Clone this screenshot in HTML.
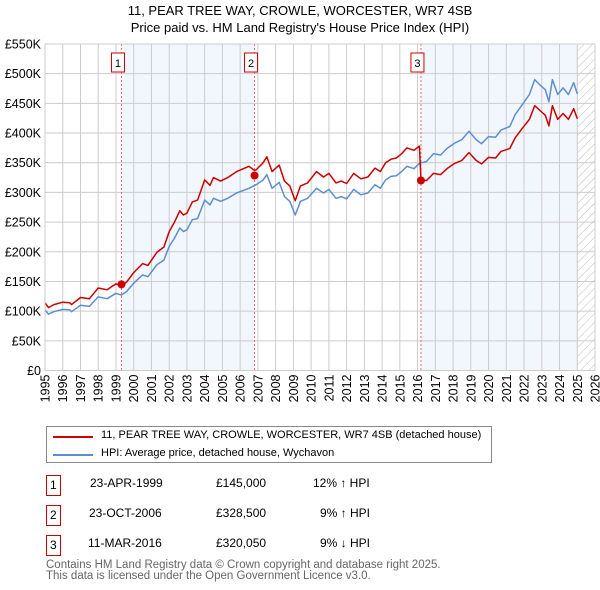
<!DOCTYPE html>
<html><head><meta charset="utf-8"><style>
body{margin:0;background:#fff;font-family:"Liberation Sans","DejaVu Sans",sans-serif;}
#wrap{position:relative;width:600px;height:590px;overflow:hidden}
.t{position:absolute;font-size:12px;color:#000;white-space:nowrap}
</style></head><body><div id="wrap">
<svg id="chart" width="600" height="590" style="position:absolute;left:0;top:0">
<defs><pattern id="hatch" width="6" height="6" patternUnits="userSpaceOnUse" patternTransform="rotate(45)"><line x1="0" y1="0" x2="0" y2="6" stroke="#bbb" stroke-width="1"/></pattern></defs>
<text x="300" y="15" text-anchor="middle" font-size="13">11, PEAR TREE WAY, CROWLE, WORCESTER, WR7 4SB</text>
<text x="300" y="32" text-anchor="middle" font-size="13">Price paid vs. HM Land Registry's House Price Index (HPI)</text>
<g id="plot"></g>
</svg>
<div style="position:absolute;left:46px;top:426px;width:444px;height:35px;border:1px solid #888">
 <div style="position:absolute;left:6px;top:9px;width:40px;height:2px;background:#cc0000"></div>
 <div class="t" style="left:54px;top:2px;font-size:11px">11, PEAR TREE WAY, CROWLE, WORCESTER, WR7 4SB (detached house)</div>
 <div style="position:absolute;left:6px;top:27px;width:40px;height:2px;background:#5b8fd0"></div>
 <div class="t" style="left:54px;top:20px;font-size:11px">HPI: Average price, detached house, Wychavon</div>
</div>
<div>
<div style="position:absolute;left:46px;top:475px;width:13px;height:19px;border:1px solid #cc0000"><span class="t" style="left:3px;top:2px">1</span></div>
<div class="t" style="left:90px;top:476px">23-APR-1999</div>
<div class="t" style="left:216px;top:476px">£145,000</div>
<div class="t" style="left:313px;top:476px">12% ↑ HPI</div>
<div style="position:absolute;left:46px;top:505px;width:13px;height:19px;border:1px solid #cc0000"><span class="t" style="left:3px;top:2px">2</span></div>
<div class="t" style="left:89px;top:506px">23-OCT-2006</div>
<div class="t" style="left:216px;top:506px">£328,500</div>
<div class="t" style="left:320px;top:506px">9% ↑ HPI</div>
<div style="position:absolute;left:46px;top:535px;width:13px;height:19px;border:1px solid #cc0000"><span class="t" style="left:3px;top:2px">3</span></div>
<div class="t" style="left:88px;top:536px">11-MAR-2016</div>
<div class="t" style="left:216px;top:536px">£320,050</div>
<div class="t" style="left:320px;top:536px">9% ↓ HPI</div>
</div>
<div class="t" style="left:46px;top:560px;color:#666;font-size:11.5px;line-height:11px">Contains HM Land Registry data © Crown copyright and database right 2025.<br>This data is licensed under the Open Government Licence v3.0.</div>
</div>
<script>
const hpiYears=[1995.0,1995.2,1995.5,1996,1996.4,1996.5,1997,1997.5,1998,1998.5,1999,1999.3,1999.6,2000,2000.5,2000.8,2001.3,2001.7,2002,2002.3,2002.6,2002.8,2003,2003.3,2003.6,2004,2004.3,2004.5,2004.9,2005.3,2005.8,2006.5,2006.9,2007.3,2007.5,2007.8,2008.2,2008.5,2008.8,2009.1,2009.4,2009.8,2010.3,2010.7,2011,2011.4,2011.7,2012,2012.4,2012.8,2013.2,2013.6,2013.9,2014.2,2014.5,2014.8,2015.1,2015.4,2015.8,2016.1,2016.5,2016.9,2017.3,2017.7,2018.1,2018.5,2018.9,2019.3,2019.6,2020,2020.4,2020.7,2021.2,2021.5,2021.9,2022.3,2022.6,2022.9,2023.2,2023.4,2023.6,2023.9,2024.2,2024.5,2024.8,2025.0];
const hpiValues=[102,95,99,103,102,99,110,108,124,121,130,127,133,147,161,158,178,186,209,223,240,234,237,254,256,287,279,290,285,290,299,307,313,321,330,307,317,293,285,262,285,290,307,299,305,290,293,289,305,296,299,313,307,321,327,328,335,344,340,349,352,365,363,375,383,389,403,389,382,394,393,405,411,431,448,465,490,481,473,453,490,465,476,465,485,466];
const propYears=[1995.0,1995.2,1995.5,1996,1996.4,1996.5,1997,1997.5,1998,1998.5,1999,1999.3,1999.6,2000,2000.5,2000.8,2001.3,2001.7,2002,2002.3,2002.6,2002.8,2003,2003.3,2003.6,2004,2004.3,2004.5,2004.9,2005.3,2005.8,2006.5,2006.8,2006.9,2007.3,2007.5,2007.8,2008.2,2008.5,2008.8,2009.1,2009.4,2009.8,2010.3,2010.7,2011,2011.4,2011.7,2012,2012.4,2012.8,2013.2,2013.6,2013.9,2014.2,2014.5,2014.8,2015.1,2015.4,2015.8,2016.1,2016.19,2016.5,2016.9,2017.3,2017.7,2018.1,2018.5,2018.9,2019.3,2019.6,2020,2020.4,2020.7,2021.2,2021.5,2021.9,2022.3,2022.6,2022.9,2023.2,2023.4,2023.6,2023.9,2024.2,2024.5,2024.8,2025.0];
const propValues=[114,106,111,115,114,111,123,121,139,136,146,142,149,165,180,177,199,208,234,250,269,262,265,284,287,321,312,325,319,325,335,344,337,338,350,360,335,346,319,311,286,311,316,335,326,332,316,319,315,332,323,326,341,335,350,356,358,365,375,371,378,320,320,332,330,341,349,354,367,354,348,359,358,369,374,392,408,423,446,438,430,412,446,423,433,423,441,424];
const saleYears=[1999.31,2006.81,2016.19];
const saleValues=[145,328.5,320.05];
const saleLabels=["1","2","3"];
const yTicks=[0,50,100,150,200,250,300,350,400,450,500,550];
const yTickLabels=["£0","£50K","£100K","£150K","£200K","£250K","£300K","£350K","£400K","£450K","£500K","£550K"];
const xTicks=[1995,1996,1997,1998,1999,2000,2001,2002,2003,2004,2005,2006,2007,2008,2009,2010,2011,2012,2013,2014,2015,2016,2017,2018,2019,2020,2021,2022,2023,2024,2025,2026];

const L=45,R=595,T=44,B=370.5;
const x=y=>L+(y-1995)*(R-L)/31;
const yv=v=>B-v*(B-T)/550;
const NS="http://www.w3.org/2000/svg";
const g=document.getElementById('plot');
function mk(tag,attrs){const e=document.createElementNS(NS,tag);for(const k in attrs)e.setAttribute(k,attrs[k]);g.appendChild(e);return e;}
[[saleYears[0],saleYears[1]],[saleYears[2],2025.0]].forEach((b,i)=>{
 const r=mk('rect',{x:x(b[0]),y:T,width:x(b[1])-x(b[0]),height:B-T,fill:'#eef3fc',opacity:0.75});
 
 
});
const h=mk('rect',{x:x(2025.0),y:T,width:R-x(2025.0),height:B-T,fill:'url(#hatch)'});


yTicks.forEach((v,i)=>{
 const l=mk('line',{x1:L,x2:R,y1:yv(v),y2:yv(v),stroke:'#ccc','stroke-width':1});
 
 
 const t=mk('text',{x:L-4,y:yv(v)+4.5,'text-anchor':'end','font-size':12.5});
 t.textContent=yTickLabels[i];
 
 
});
xTicks.forEach(v=>{
 const l=mk('line',{x1:x(v),x2:x(v),y1:T,y2:B,stroke:'#ccc','stroke-width':1});
 
 
 const t=mk('text',{x:0,y:0,'text-anchor':'end','font-size':12.5,transform:`translate(${x(v)+4.5},${B+4}) rotate(-90)`});
 t.textContent=v;
 
 
});
saleYears.forEach((s,i)=>{
 const l=mk('line',{x1:x(s),x2:x(s),y1:T,y2:B,stroke:'#e66','stroke-width':1,'stroke-dasharray':'2,2'});
 
 
 const bx=mk('rect',{x:x(s)-10,y:53,width:13,height:19,fill:'#fff',stroke:'#cc0000','stroke-width':1});
 
 
 const tx=mk('text',{x:x(s)-3.5,y:67,'text-anchor':'middle','font-size':11});
 tx.textContent=saleLabels[i];
 
 
});
function line(xs,vs,col,name){
 const p=mk('polyline',{points:xs.map((a,i)=>x(a).toFixed(1)+','+yv(vs[i]).toFixed(1)).join(' '),fill:'none',stroke:col,'stroke-width':1.5,'stroke-linejoin':'round'});
 
 
}
line(hpiYears,hpiValues,'#5b8fd0','hpi-line');
line(propYears,propValues,'#cc0000','property-price-line');
saleYears.forEach((s,i)=>{
 const c=mk('circle',{cx:x(s),cy:yv(saleValues[i]),r:4,fill:'#cc0000'});
 
 
});
const ax=mk('rect',{x:L,y:T,width:R-L,height:B-T,fill:'none',stroke:'#ccc','stroke-width':1});


</script>
</body></html>
